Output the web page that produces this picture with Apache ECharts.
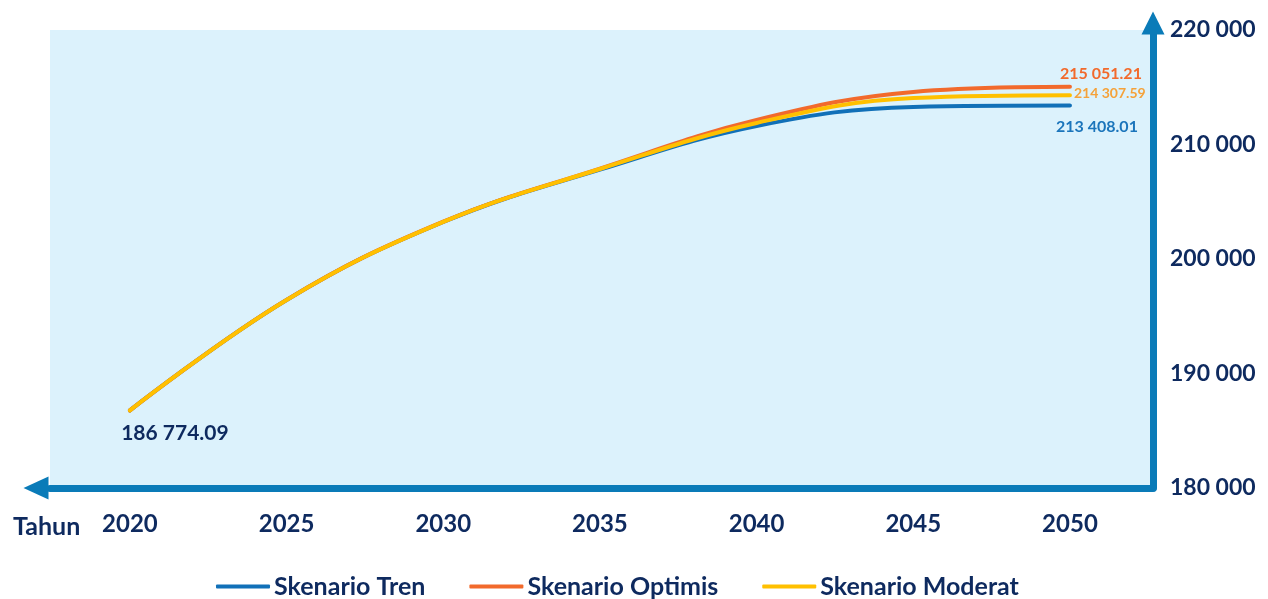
<!DOCTYPE html>
<html>
<head>
<meta charset="utf-8">
<script src="https://cdn.jsdelivr.net/npm/echarts@6/dist/echarts.min.js"></script>
<style>
  html, body { margin: 0; padding: 0; background: #ffffff; }
  #chart { width: 1268px; height: 599px; }
</style>
</head>
<body>
<div id="chart"></div>
<script>
// ---- data ----
const years = [2020, 2025, 2030, 2035, 2040, 2045, 2050];
const tickYears = [2020, 2025, 2030, 2035, 2040, 2045, 2050];
const trenValues = [186774.09, 196420, 203230, 207800, 211620, 213280, 213408.01];
const optimisValues = [186774.09, 196430, 203260, 207900, 212140, 214590, 215051.21];
const moderatValues = [186774.09, 196425, 203245, 207860, 211880, 214060, 214307.59];
const seriesNames = ['Skenario Tren', 'Skenario Optimis', 'Skenario Moderat'];
const yTicks = [180000, 190000, 200000, 210000, 220000];

const FONT = 'Lato';
const NAVY = '#0e2a5f';
const AXIS = '#0a7bb8';
const C_TREN = '#1170b8';
const C_OPT = '#f26a2c';
const C_MOD = '#ffc000';

function fmt(v) {
  const parts = v.toFixed(2).split('.');
  const intPart = parts[0].replace(/\B(?=(\d{3})+(?!\d))/g, ' ');
  return intPart + '.' + parts[1];
}
function fmtInt(v) {
  return String(Math.round(v)).replace(/\B(?=(\d{3})+(?!\d))/g, ' ');
}

function build(values, labelMap) {
  return values.map((v, i) => {
    const item = { value: [years[i], v] };
    if (labelMap[i]) item.label = Object.assign({ show: true, fontFamily: FONT, fontWeight: 'bold', formatter: () => fmt(v) }, labelMap[i]);
    return item;
  });
}

const lineBase = {
  type: 'line',
  smooth: 0.4,
  symbol: 'circle',
  symbolSize: 0,
  showSymbol: true,
  silent: true,
  label: { show: false },
  z: 3
};

const chart = echarts.init(document.getElementById('chart'), null, { renderer: 'canvas' });
chart.setOption({
  animation: false,
  backgroundColor: '#ffffff',
  title: {
    text: 'Tahun',
    left: 8,
    top: 509,
    textStyle: { fontFamily: FONT, fontWeight: 'bold', fontSize: 25, color: NAVY }
  },
  grid: {
    left: 50, right: 115, top: 30, bottom: 111,
    show: true, backgroundColor: '#dcf2fc', borderWidth: 0
  },
  legend: {
    top: 569,
    left: 211,
    icon: 'roundRect',
    itemWidth: 54,
    itemHeight: 4,
    itemGap: 44,
    data: seriesNames,
    textStyle: { fontFamily: FONT, fontWeight: 'bold', fontSize: 25, color: NAVY, padding: [0, 0, 0, -1] }
  },
  xAxis: {
    type: 'value',
    min: 2017.45,
    max: 2052.65,
    splitLine: { show: false },
    axisTick: { show: false },
    axisLine: {
      show: true,
      lineStyle: { color: AXIS, width: 7 },
      symbol: ['triangle', 'none'],
      symbolSize: [23, 25],
      symbolOffset: [-14, 0]
    },
    axisLabel: {
      customValues: tickYears,
      margin: 24,
      fontFamily: FONT, fontWeight: 'bold', fontSize: 24, color: NAVY,
      formatter: v => String(v)
    }
  },
  yAxis: {
    type: 'value',
    position: 'right',
    min: 180000,
    max: 220000,
    interval: 10000,
    splitLine: { show: false },
    axisTick: { show: false },
    axisLine: {
      show: true,
      lineStyle: { color: AXIS, width: 7 },
      symbol: ['none', 'triangle'],
      symbolSize: [23, 23],
      symbolOffset: [0, 7]
    },
    axisLabel: {
      customValues: yTicks,
      margin: 17,
      fontFamily: FONT, fontWeight: 'bold', fontSize: 23, color: NAVY,
      formatter: v => fmtInt(v)
    }
  },
  series: [
    Object.assign({}, lineBase, {
      name: seriesNames[0],
      color: C_TREN,
      lineStyle: { width: 4, color: C_TREN, cap: 'round' },
      data: build(trenValues, {
        6: { position: 'bottom', distance: 13, offset: [27, 0], fontSize: 16, color: '#1b75bb' }
      })
    }),
    Object.assign({}, lineBase, {
      name: seriesNames[1],
      color: C_OPT,
      lineStyle: { width: 4, color: C_OPT, cap: 'round' },
      data: build(optimisValues, {
        6: { position: 'top', distance: 5, offset: [31, 0], fontSize: 16, color: '#f26a2c' }
      })
    }),
    Object.assign({}, lineBase, {
      name: seriesNames[2],
      color: C_MOD,
      lineStyle: { width: 4, color: C_MOD, cap: 'round' },
      data: build(moderatValues, {
        0: { position: 'bottom', distance: 12, offset: [45, 0], fontSize: 21, color: NAVY },
        6: { position: 'right', distance: 4, offset: [0, -2], fontSize: 14, color: '#f5a23a' }
      })
    })
  ]
});
</script>
</body>
</html>
